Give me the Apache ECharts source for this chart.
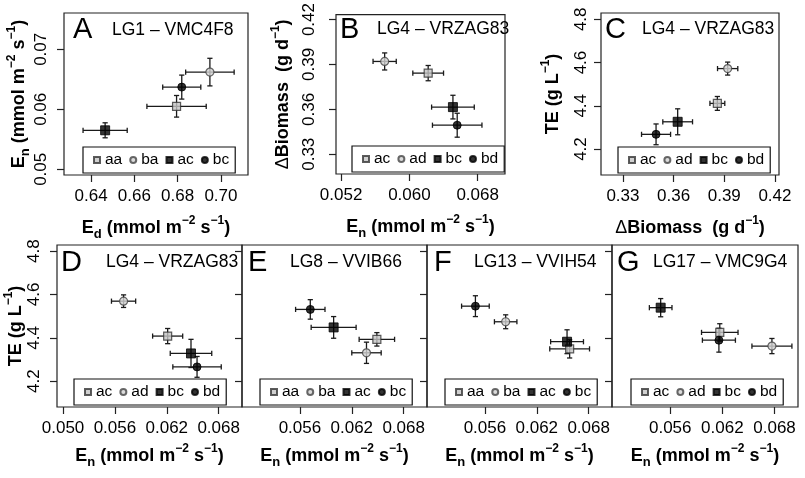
<!DOCTYPE html>
<html>
<head>
<meta charset="utf-8">
<script src="https://cdn.jsdelivr.net/npm/echarts@6/dist/echarts.min.js"></script>
<style>html,body{margin:0;padding:0;background:#fff}#c{width:805px;height:478px}</style>
</head>
<body>
<div id="c"></div>
<script>
// ---------- DATA ----------
const groupsA = ['aa', 'ba', 'ac', 'bc'];
const xA = [0.6795, 0.6949, 0.6465, 0.6819];
const yA = [0.0605, 0.0662, 0.0565, 0.0637];
const xErrA = [0.0137, 0.0112, 0.0102, 0.0088];
const yErrA = [0.0018, 0.0023, 0.00125, 0.0020];

const groupsB = ['ac', 'ad', 'bc', 'bd'];
const xB = [0.0622, 0.0571, 0.0651, 0.0656];
const yB = [0.3842, 0.3920, 0.3615, 0.3494];
const xErrB = [0.0018, 0.00136, 0.0025, 0.0029];
const yErrB = [0.0051, 0.0057, 0.0079, 0.0080];

const groupsC = ['ac', 'ad', 'bc', 'bd'];
const xC = [0.3859, 0.3920, 0.3624, 0.3496];
const yC = [4.411, 4.572, 4.326, 4.268];
const xErrC = [0.0044, 0.0060, 0.0088, 0.0086];
const yErrC = [0.032, 0.030, 0.060, 0.048];

const groupsD = ['ac', 'ad', 'bc', 'bd'];
const xD = [0.0621, 0.0570, 0.0648, 0.0655];
const yD = [4.408, 4.569, 4.328, 4.266];
const xErrD = [0.00174, 0.0014, 0.0024, 0.0028];
const yErrD = [0.035, 0.029, 0.065, 0.048];

const groupsE = ['aa', 'ba', 'ac', 'bc'];
const xE = [0.0649, 0.0637, 0.0599, 0.0572];
const yE = [4.393, 4.331, 4.448, 4.531];
const xErrE = [0.00205, 0.0017, 0.0026, 0.0017];
const yErrE = [0.031, 0.049, 0.050, 0.045];

const groupsF = ['aa', 'ba', 'ac', 'bc'];
const xF = [0.0658, 0.0584, 0.0655, 0.0549];
const yF = [4.349, 4.474, 4.382, 4.546];
const xErrF = [0.0023, 0.0013, 0.0019, 0.0016];
const yErrF = [0.042, 0.032, 0.055, 0.048];

const groupsG = ['ac', 'ad', 'bc', 'bd'];
const xG = [0.0617, 0.0677, 0.0549, 0.0616];
const yG = [4.425, 4.362, 4.539, 4.389];
const xErrG = [0.0021, 0.0023, 0.0013, 0.0019];
const yErrG = [0.040, 0.035, 0.042, 0.055];

const ticksAx = [0.64, 0.66, 0.68, 0.70];
const ticksAy = [0.05, 0.06, 0.07];
const ticksBx = [0.052, 0.060, 0.068];
const ticksBy = [0.33, 0.36, 0.39, 0.42];
const ticksCx = [0.33, 0.36, 0.39, 0.42];
const ticksTE = [4.2, 4.4, 4.6, 4.8];
const ticksDx = [0.050, 0.056, 0.062, 0.068];
const ticksEx = [0.056, 0.062, 0.068];

const panelLetters = ['A', 'B', 'C', 'D', 'E', 'F', 'G'];
const panelTitles = ['LG1 \u2013 VMC4F8', 'LG4 \u2013 VRZAG83', 'LG4 \u2013 VRZAG83', 'LG4 \u2013 VRZAG83',
  'LG8 \u2013 VVIB66', 'LG13 \u2013 VVIH54', 'LG17 \u2013 VMC9G4'];

// ---------- LAYOUT ----------
const FONT = '"Liberation Sans", Arial, Helvetica, sans-serif';
const grids = [
  {left: 64, top: 13, width: 184, height: 162},
  {left: 336, top: 13, width: 169, height: 161},
  {left: 601, top: 13, width: 178, height: 162},
  {left: 57, top: 245, width: 185, height: 162},
  {left: 242, top: 245, width: 185, height: 162},
  {left: 427, top: 245, width: 185, height: 162},
  {left: 612, top: 245, width: 186, height: 162}
];
const letterPos = [[73, 30], [340, 30], [605, 30], [61, 263], [248, 263], [434, 263], [617, 263]];
const titlePos = [[112, 30], [377, 29.5], [642, 29.5], [106, 262], [290, 262], [474, 262], [653, 262]];
const legendPos = [[83, 147], [352, 146], [618, 147], [74, 379], [260, 379], [445, 379], [631, 379]];
const xNameGaps = [40, 40, 40, 36, 36, 36, 36];

const rich = {
  b: {fontSize: 18, fontWeight: 'bold', lineHeight: 26, fontFamily: FONT, color: '#000'},
  n: {fontSize: 18, fontWeight: 'normal', lineHeight: 26, fontFamily: FONT, color: '#000'},
  sub: {fontSize: 13, fontWeight: 'bold', lineHeight: 15, verticalAlign: 'bottom', fontFamily: FONT, color: '#000'},
  sup: {fontSize: 12, fontWeight: 'bold', lineHeight: 10, verticalAlign: 'top', fontFamily: FONT, color: '#000'}
};
const nameEn = '{b|E}{sub|n}{b| (mmol m}{sup|\u22122}{b| s}{sup|\u22121}{b|)}';
const nameEd = '{b|E}{sub|d}{b| (mmol m}{sup|\u22122}{b| s}{sup|\u22121}{b|)}';
const nameBio = '{n|\u0394}{b|Biomass  (g d}{sup|\u22121}{b|)}';
const nameTE = '{b|TE (g L}{sup|\u22121}{b|)}';

function xAx(gi, min, max, ticks, dec, name) {
  return {
    type: 'value', gridIndex: gi, min: min, max: max,
    axisLine: {show: false}, splitLine: {show: false},
    axisTick: {show: true, length: 7, customValues: ticks, lineStyle: {color: '#222', width: 1.2}},
    axisLabel: {show: true, customValues: ticks, formatter: v => v.toFixed(dec), margin: 13,
      fontSize: 17, color: '#000', fontFamily: FONT},
    name: name, nameLocation: 'middle', nameGap: xNameGaps[gi], nameTextStyle: {rich: rich}
  };
}
function yAx(gi, min, max, ticks, dec, name, showLab, margin, gap) {
  return {
    type: 'value', gridIndex: gi, min: min, max: max,
    axisLine: {show: false}, splitLine: {show: false},
    axisTick: {show: true, length: 7, customValues: ticks, lineStyle: {color: '#222', width: 1.2}},
    axisLabel: {show: showLab, customValues: ticks, formatter: v => v.toFixed(dec), margin: margin,
      rotate: 90, fontSize: 17, color: '#000', fontFamily: FONT},
    name: name || '', nameLocation: 'middle', nameRotate: 90, nameGap: gap || 30, nameTextStyle: {rich: rich}
  };
}

const xAxes = [
  xAx(0, 0.6275, 0.7125, ticksAx, 2, nameEd),
  xAx(1, 0.0514, 0.0712, ticksBx, 3, nameEn),
  xAx(2, 0.317, 0.4224, ticksCx, 2, nameBio),
  xAx(3, 0.0493, 0.0707, ticksDx, 3, nameEn),
  xAx(4, 0.0493, 0.0707, ticksEx, 3, nameEn),
  xAx(5, 0.0493, 0.0707, ticksEx, 3, nameEn),
  xAx(6, 0.0493, 0.0707, ticksEx, 3, nameEn)
];
const yAxes = [
  yAx(0, 0.04905, 0.07605, ticksAy, 2, nameEn, true, 14, 26),
  yAx(1, 0.3168, 0.4233, ticksBy, 2, nameBio, true, 18, 40),
  yAx(2, 4.08, 4.829, ticksTE, 1, nameTE, true, 11, 35),
  yAx(3, 4.081, 4.828, ticksTE, 1, nameTE, true, 14, 21),
  yAx(4, 4.081, 4.828, ticksTE, 1, '', false, 14, 30),
  yAx(5, 4.081, 4.828, ticksTE, 1, '', false, 14, 30),
  yAx(6, 4.081, 4.828, ticksTE, 1, '', false, 14, 30)
];

const panels = [
  [groupsA, xA, yA, xErrA, yErrA],
  [groupsB, xB, yB, xErrB, yErrB],
  [groupsC, xC, yC, xErrC, yErrC],
  [groupsD, xD, yD, xErrD, yErrD],
  [groupsE, xE, yE, xErrE, yErrE],
  [groupsF, xF, yF, xErrF, yErrF],
  [groupsG, xG, yG, xErrG, yErrG]
];

// marker style by position in group list: light square, light circle, black square, black circle
const markStyles = [
  {symbol: 'rect', size: 8, itemStyle: {color: '#c4c4c4', borderColor: '#333', borderWidth: 1.2}},
  {symbol: 'circle', size: 8, itemStyle: {color: '#d2d2d2', borderColor: '#444', borderWidth: 1.2}},
  {symbol: 'rect', size: 9, itemStyle: {color: '#000', borderColor: '#000', borderWidth: 1}},
  {symbol: 'circle', size: 8, itemStyle: {color: '#000', borderColor: '#000', borderWidth: 1}}
];

function errRender(params, api) {
  const x = api.value(0), y = api.value(1), xe = api.value(2), ye = api.value(3);
  const l = api.coord([x - xe, y]), r = api.coord([x + xe, y]);
  const t = api.coord([x, y + ye]), b = api.coord([x, y - ye]);
  const cap = 2.6;
  const st = {stroke: '#1a1a1a', lineWidth: 1.3};
  const ln = (x1, y1, x2, y2) => ({type: 'line', shape: {x1: x1, y1: y1, x2: x2, y2: y2}, style: st});
  return {type: 'group', children: [
    ln(l[0], l[1], r[0], r[1]),
    ln(t[0], t[1], b[0], b[1]),
    ln(l[0], l[1] - cap, l[0], l[1] + cap),
    ln(r[0], r[1] - cap, r[0], r[1] + cap),
    ln(t[0] - cap, t[1], t[0] + cap, t[1]),
    ln(b[0] - cap, b[1], b[0] + cap, b[1])
  ]};
}

const series = [];
const legends = [];
const graphics = [];
panels.forEach((p, pi) => {
  const [groups, xs, ys, xes, yes] = p;
  series.push({
    type: 'custom', xAxisIndex: pi, yAxisIndex: pi, z: 1, silent: true,
    renderItem: errRender, encode: {x: 0, y: 1},
    data: xs.map((v, i) => [v, ys[i], xes[i], yes[i]])
  });
  const names = [];
  groups.forEach((g, gi) => {
    const nm = panelLetters[pi] + ':' + g;
    names.push(nm);
    const ms = markStyles[gi];
    series.push({
      type: 'scatter', name: nm, xAxisIndex: pi, yAxisIndex: pi, z: 3,
      symbol: ms.symbol, symbolSize: ms.size, itemStyle: ms.itemStyle,
      data: [[xs[gi], ys[gi]]]
    });
  });
  legends.push({
    left: legendPos[pi][0], top: legendPos[pi][1], orient: 'horizontal',
    data: names, itemWidth: 6, itemHeight: 6, itemGap: 7, padding: [5, 6, 5, 10],
    borderColor: '#111', borderWidth: 1.2, backgroundColor: '#fff', selectedMode: false,
    textStyle: {fontSize: 15.5, fontFamily: FONT, color: '#000'},
    formatter: n => n.split(':')[1]
  });
  graphics.push({type: 'text', x: letterPos[pi][0], y: letterPos[pi][1], z: 10,
    style: {text: panelLetters[pi], fontSize: 29, fontFamily: FONT, fill: '#000', verticalAlign: 'middle', align: 'left'}});
  graphics.push({type: 'text', x: titlePos[pi][0], y: titlePos[pi][1], z: 10,
    style: {text: panelTitles[pi], fontSize: 17.5, fontFamily: FONT, fill: '#000', verticalAlign: 'middle', align: 'left'}});
});

const chart = echarts.init(document.getElementById('c'), null, {renderer: 'canvas'});
chart.setOption({
  animation: false,
  backgroundColor: '#fff',
  grid: grids.map(g => Object.assign({show: true, borderColor: '#222', borderWidth: 1.2, backgroundColor: 'transparent', containLabel: false}, g)),
  xAxis: xAxes,
  yAxis: yAxes,
  legend: legends,
  graphic: graphics,
  series: series
});
</script>
</body>
</html>
